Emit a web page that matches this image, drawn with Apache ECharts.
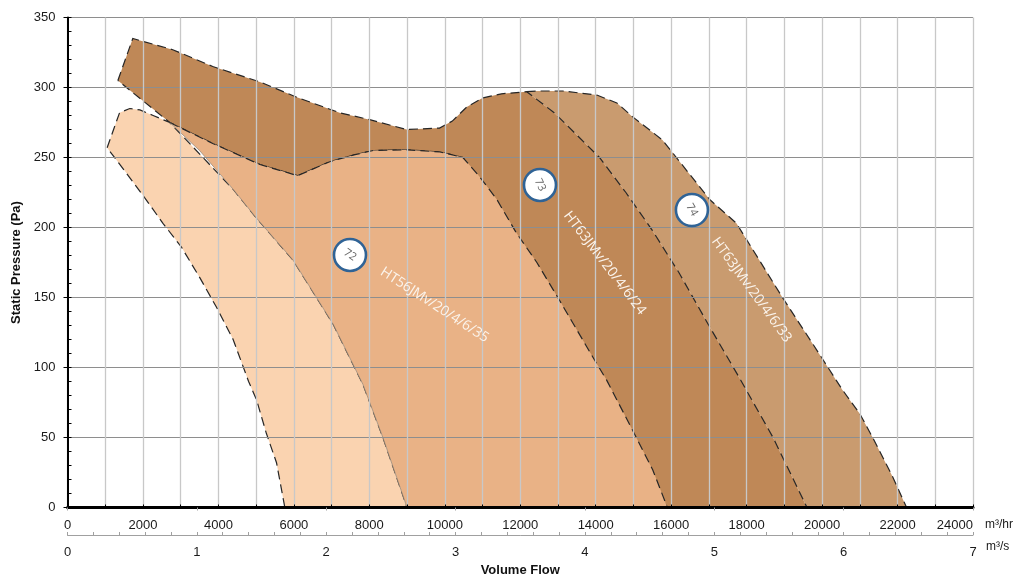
<!DOCTYPE html>
<html>
<head>
<meta charset="utf-8">
<script src="https://cdn.jsdelivr.net/npm/echarts@6/dist/echarts.min.js"></script>
<style>html,body{margin:0;padding:0;background:#fff}#c{width:1016px;height:575px}</style>
</head>
<body>
<div id="c"></div>
<script>
// ---- data (m³/hr, Pa) ----
const flowTicks = [0,2000,4000,6000,8000,10000,12000,14000,16000,18000,20000,22000,24000];
const secTicks = [0,1,2,3,4,5,6,7];

// Region 71 (lightest)
const r71Outline = [[1050,257],[1380,282],[1650,285],[1920,284],[2270,280],[2710,275],[4400,227],[5000,207],[5970,177],[6600,150],[7040,131],[7830,88],[8360,50],[9000,0],[5760,0],[5540,32],[5270,53],[5010,77],[4800,90],[4390,120],[3950,143],[3510,164],[3020,186],[2530,203],[2000,223],[1500,241]];
// Region 72 – HT56JMv/20/4/6/35
const r72Dashed = [[2710,275],[3850,260],[5100,245],[6100,237],[6950,247],[7620,252],[8100,255],[9000,255.5],[9870,254],[10480,250],[10930,236],[11380,220],[11900,196],[12440,175],[13040,148],[14020,103],[14290,91],[14980,55],[15510,27],[15900,0]];
const r72Left = [[15900,0],[9000,0],[8360,50],[7830,88],[7040,131],[6600,150],[5970,177],[5000,207],[4400,227],[3500,255],[2710,275]];
// Region 73 – HT63JMv/20/4/6/24
const r73Outline = [[1335,305],[1730,335],[2790,327],[3850,315],[5100,304],[6080,293],[7210,282],[8010,277],[8990,270],[9860,271],[10200,276],[10580,286],[11000,292.5],[11500,295.5],[12170,297],[12900,282],[13500,266],[14100,250],[14800,225],[15500,198],[16200,168],[17000,130],[17800,93],[18700,50],[19600,0],[15900,0],[10480,250],[9870,254],[9000,255.5],[8100,255],[7620,252],[6950,247],[6100,237],[5100,245],[3850,260],[2710,275]];
// Region 74 – HT63JMv/20/4/6/33
const r74Outline = [[12170,297],[12440,297.5],[13130,297.5],[14030,294.6],[14560,289],[14980,279],[15770,262.5],[17020,220],[17730,203],[18950,150],[19750,117],[20540,84],[21000,67],[21340,50],[21870,22],[22240,0],[19600,0],[18700,50],[17800,93],[17000,130],[16200,168],[15500,198],[14800,225],[14100,250],[13500,266],[12900,282]];

// annotations
const markerIds = ['72','73','74'];
const markerPos = [[7487,180.4],[12523,230.4],[16550,212.5]];
const markerAngle = [35,65,60];
const curveNames = ['HT56JMv/20/4/6/35','HT63JMv/20/4/6/24','HT63JMv/20/4/6/33'];
const curveNamePos = [[9730,144.6],[14240,174.6],[18130,155.4]];
const curveNameAngle = [33,52.6,54];

// ---- chart ----
const chart = echarts.init(document.getElementById('c'), null, {renderer:'canvas'});
const FONT = 'Liberation Sans, Arial, sans-serif';
const DASH = {stroke:'#262626', lineWidth:1.2, lineDash:[9,5], fill:null};

function regionSeries(points, fill, dashed, thin){
  return {
    type:'custom', coordinateSystem:'cartesian2d', z:1, silent:true,
    data: points,
    renderItem: function(params, api){
      if (params.dataIndex !== 0) return null;
      const poly = points.map(p => api.coord(p));
      const children = [{type:'polygon', shape:{points:poly}, style:{fill:fill, stroke:null}}];
      children.push({type:'polyline', shape:{points:dashed.map(p=>api.coord(p))}, style:Object.assign({}, DASH)});
      if (thin) children.push({type:'polyline', shape:{points:thin.map(p=>api.coord(p))}, style:{stroke:'#9a8a7a', lineWidth:0.8, fill:null}});
      return {type:'group', children};
    }
  };
}

const labelSeries = {
  type:'custom', coordinateSystem:'cartesian2d', z:20, silent:true,
  data: markerPos.map((p,i)=>[p[0],p[1],i]),
  renderItem: function(params, api){
    const i = params.dataIndex;
    const c = api.coord(markerPos[i]);
    const t = api.coord(curveNamePos[i]);
    return {type:'group', children:[
      {type:'circle', shape:{cx:c[0], cy:c[1], r:16}, style:{fill:'#ffffff', stroke:'#2f6396', lineWidth:2.6}},
      {type:'text', x:c[0], y:c[1], rotation:-markerAngle[i]*Math.PI/180,
       style:{text:markerIds[i], fill:'#666', font:'11px "Open Sans", sans-serif', align:'center', verticalAlign:'middle'}},
      {type:'text', x:t[0], y:t[1], rotation:-curveNameAngle[i]*Math.PI/180,
       style:{text:curveNames[i], fill:'#fbf4ec', font:'14px "Open Sans", sans-serif', align:'center', verticalAlign:'middle'}}
    ]};
  }
};

chart.setOption({
  animation:false,
  grid:{left:67.5, right:43, top:17.5, bottom:67.5, outerBoundsMode:'none', containLabel:false},
  xAxis:[
    {type:'value', min:0, max:24000, interval:1000, position:'bottom', z:5,
     axisLine:{show:true, onZero:false, lineStyle:{color:'#000', width:3}},
     axisTick:{show:true, inside:true, length:3, lineStyle:{color:'#000', width:1}},
     axisLabel:{margin:11, fontSize:13, fontFamily:FONT, color:'#1a1a1a', alignMaxLabel:'right',
       formatter: v => flowTicks.indexOf(v) >= 0 ? String(v) : ''},
     splitLine:{show:true, lineStyle:{color:'#c8c8c8', width:1.3}}},
    {type:'value', min:0, max:7, interval:1, position:'bottom', offset:27.5, z:5,
     name:'Volume Flow', nameLocation:'middle', nameGap:27,
     nameTextStyle:{fontSize:13, fontWeight:'bold', fontFamily:FONT, color:'#111'},
     axisLine:{show:true, onZero:false, lineStyle:{color:'#a0a0a0', width:1}},
     axisTick:{show:true, inside:true, length:3, lineStyle:{color:'#a0a0a0'}},
     minorTick:{show:true, splitNumber:5, length:3, lineStyle:{color:'#a0a0a0'}},
     axisLabel:{margin:11, fontSize:13, fontFamily:FONT, color:'#1a1a1a',
       formatter: v => secTicks.indexOf(v) >= 0 ? String(v) : ''},
     splitLine:{show:false}},
    {type:'value', min:0, max:7, interval:1, position:'bottom', offset:27.5, z:5,
     axisLine:{show:false}, axisTick:{show:true, inside:false, length:3, lineStyle:{color:'#a0a0a0'}},
     axisLabel:{show:false}, splitLine:{show:false}}
  ],
  yAxis:[
    {type:'value', min:0, max:350, interval:50, position:'left', z:5,
     name:'Static Pressure (Pa)', nameLocation:'middle', nameGap:40,
     nameTextStyle:{fontSize:13, fontWeight:'bold', fontFamily:FONT, color:'#111'},
     axisLine:{show:true, onZero:false, lineStyle:{color:'#000', width:2}},
     axisTick:{show:true, inside:true, length:4, lineStyle:{color:'#000'}},
     minorTick:{show:true, splitNumber:5, length:4, lineStyle:{color:'#000'}},
     axisLabel:{margin:12, fontSize:13, fontFamily:FONT, color:'#1a1a1a'},
     splitLine:{show:true, lineStyle:{color:'#8e8e8e', width:1}}},
    {type:'value', min:0, max:350, interval:50, position:'left', offset:0, z:5,
     axisLine:{show:false}, axisTick:{show:true, inside:false, length:4, lineStyle:{color:'#000'}},
     axisLabel:{show:false}, splitLine:{show:false}}
  ],
  graphic:[
    {type:'text', left:985, top:519, style:{text:'m³/hr', font:'12px ' + FONT, fill:'#1a1a1a'}},
    {type:'text', left:986, top:541, style:{text:'m³/s', font:'12px ' + FONT, fill:'#1a1a1a'}}
  ],
  series:[
    regionSeries(r74Outline, '#c99b6f', r74Outline.slice(0,16)),
    regionSeries(r73Outline, '#bf8857', r73Outline.concat([r73Outline[0]])),
    regionSeries(r71Outline, '#fad3b0', r71Outline.concat([r71Outline[0]])),
    regionSeries(r72Dashed.concat(r72Left), '#e9b286', r72Dashed, r72Left.slice(1)),
    labelSeries
  ]
});
</script>
</body>
</html>
